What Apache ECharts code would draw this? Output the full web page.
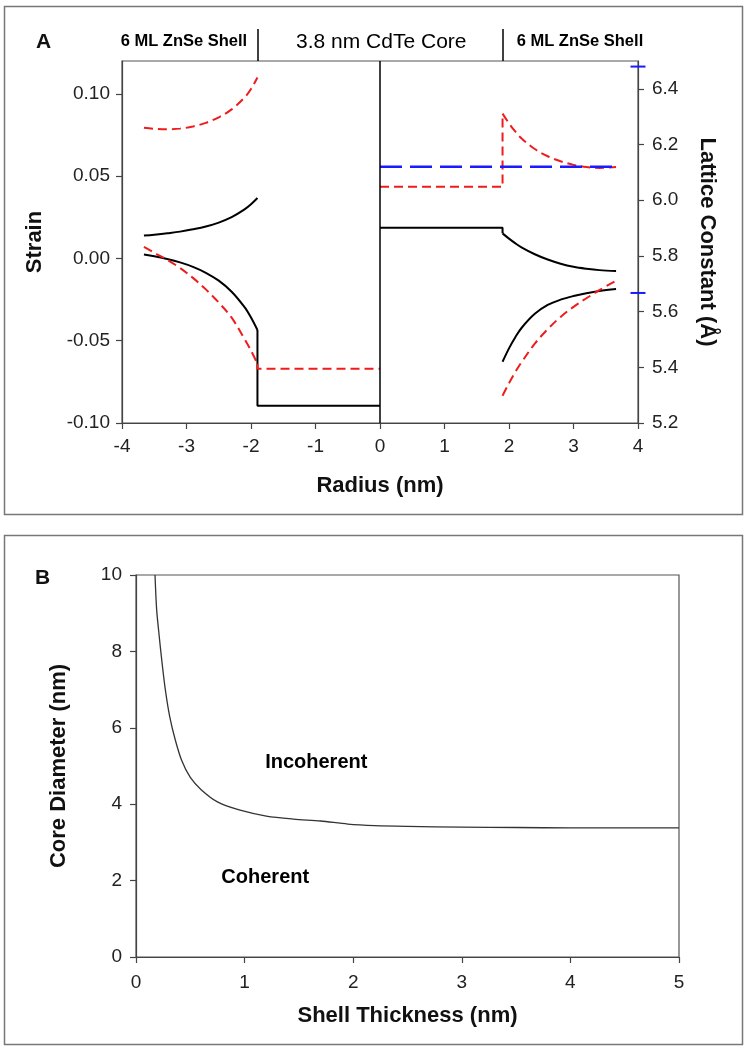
<!DOCTYPE html>
<html><head><meta charset="utf-8">
<script src="https://cdn.jsdelivr.net/npm/echarts@6/dist/echarts.min.js"></script>
<style>html,body{margin:0;padding:0;background:#fff}#c{width:749px;height:1050px}</style>
</head><body><div id="c"></div><script>
// ---------- Panel A data ----------
const strainTicks = [-0.10, -0.05, 0.00, 0.05, 0.10];
const latticeTicks = [5.2, 5.4, 5.6, 5.8, 6.0, 6.2, 6.4];
const leftShellRadius = [-3.66, -3.5, -3.3, -3.1, -2.9, -2.7, -2.5, -2.3, -2.1, -2.0, -1.9];
const rightShellRadius = [1.9, 2.0, 2.1, 2.2, 2.4, 2.6, 2.8, 3.0, 3.2, 3.4, 3.66];
const coreRadiusLeft = [-1.9, 0];
const coreRadiusRight = [0, 1.9];
// strain (left half, left axis)
const strainRedUpper = [0.0795, 0.0788, 0.0785, 0.0789, 0.0802, 0.0824, 0.0858, 0.0906, 0.0978, 0.1030, 0.1100];
const strainBlackUpper = [0.0139, 0.0144, 0.0153, 0.0163, 0.0177, 0.0194, 0.0218, 0.0251, 0.0298, 0.0329, 0.0367];
const strainBlackLower = [0.0024, 0.0014, -0.0003, -0.0024, -0.0051, -0.0087, -0.0135, -0.0202, -0.0296, -0.0359, -0.0435];
const strainRedLower = [0.0070, 0.0035, -0.0008, -0.0058, -0.0118, -0.0188, -0.0268, -0.0360, -0.0490, -0.0560, -0.0640];
const coreStrainBlack = -0.0895;
const coreStrainRed = -0.067;
// lattice constant (right half, right axis)
const latticeRedUpper = [6.311, 6.276, 6.246, 6.221, 6.184, 6.158, 6.140, 6.127, 6.119, 6.116, 6.119];
const latticeBlackUpper = [5.881, 5.862, 5.845, 5.830, 5.806, 5.787, 5.772, 5.761, 5.754, 5.749, 5.746];
const latticeBlackLower = [5.420, 5.468, 5.509, 5.543, 5.592, 5.624, 5.643, 5.656, 5.666, 5.674, 5.681];
const latticeRedLower = [5.298, 5.343, 5.384, 5.420, 5.485, 5.537, 5.581, 5.617, 5.648, 5.677, 5.711];
const coreLatticeBlack = 5.901;
const coreLatticeRed = 6.048;
const blueLineRadius = [0, 3.66];
const blueLattice = 6.12;
const bulkLattice = [6.48, 5.667];
const headerLabels = ['6 ML ZnSe Shell', '3.8 nm CdTe Core', '6 ML ZnSe Shell'];
const headerLabelX = [-3.04, 0.02, 3.1];
const interfaceRadius = [-1.9, 1.9];

// ---------- Panel B data ----------
const shellThickness = [0.175, 0.19, 0.21, 0.24, 0.27, 0.31, 0.36, 0.42, 0.5, 0.6, 0.75, 0.95, 1.2, 1.45, 1.7, 1.95, 2.2, 2.5, 3.0, 3.5, 4.0, 4.5, 5.0];
const coreDiameter = [10.0, 9.1, 8.5, 7.7, 7.0, 6.3, 5.7, 5.15, 4.7, 4.38, 4.06, 3.85, 3.69, 3.61, 3.56, 3.48, 3.44, 3.42, 3.40, 3.39, 3.38, 3.38, 3.38];
const regionLabels = ['Incoherent', 'Coherent'];
const regionX = [1.66, 1.19];
const regionY = [5.08, 2.09];

const FONT = '"Liberation Sans", Arial, sans-serif';
const zip = (xs, ys) => xs.map((x, i) => [x, ys[i]]);

const red = { color: '#ee1c1c', width: 2, type: [9, 5] };
const black = { color: '#000', width: 2, type: 'solid' };
const blue = { color: '#1a1aff', width: 2.5, type: [22, 8] };

function lineS(data, style, yAxisIndex, smooth) {
  return { type: 'line', xAxisIndex: 0, yAxisIndex: yAxisIndex, data: data, showSymbol: false, symbol: 'none',
    smooth: smooth ? 0.35 : false, lineStyle: style, itemStyle: { color: style.color }, z: 3, animation: false };
}

const axisLbl = { fontFamily: FONT, fontSize: 19, color: '#222' };
const nameStyle = { fontFamily: FONT, fontSize: 22, fontWeight: 'bold', color: '#111' };
const axLine = { show: true, onZero: false, lineStyle: { color: '#444', width: 1.2 } };
const axTick = { show: true, inside: false, length: 6, lineStyle: { color: '#444', width: 1.2 } };

const option = {
  animation: false,
  backgroundColor: '#fff',
  title: [
    { text: 'A', left: 31, top: 27, textStyle: { fontFamily: FONT, fontSize: 21, fontWeight: 'bold', color: '#111' } },
    { text: 'B', left: 30, top: 563, textStyle: { fontFamily: FONT, fontSize: 21, fontWeight: 'bold', color: '#111' } }
  ],
  graphic: [
    { type: 'rect', shape: { x: 4.5, y: 6.5, width: 738, height: 508 }, style: { fill: 'none', stroke: '#777', lineWidth: 1.5 }, silent: true },
    { type: 'rect', shape: { x: 4.5, y: 535.5, width: 738, height: 509 }, style: { fill: 'none', stroke: '#777', lineWidth: 1.5 }, silent: true }
  ],
  grid: [
    { left: 122, top: 61, width: 516, height: 362, show: true, borderColor: '#555', borderWidth: 1.2, backgroundColor: 'transparent' },
    { left: 122, top: 29, width: 516, height: 32, show: false },
    { left: 136, top: 575, width: 543, height: 382, show: true, borderColor: '#555', borderWidth: 1.2, backgroundColor: 'transparent' }
  ],
  xAxis: [
    { gridIndex: 0, type: 'value', min: -4, max: 4, interval: 1, axisLine: axLine, axisTick: axTick,
      axisLabel: Object.assign({ margin: 14 }, axisLbl), splitLine: { show: false },
      name: 'Radius (nm)', nameLocation: 'middle', nameGap: 52, nameTextStyle: nameStyle },
    { gridIndex: 1, type: 'value', min: -4, max: 4, show: false },
    { gridIndex: 2, type: 'value', min: 0, max: 5, interval: 1, axisLine: axLine, axisTick: axTick,
      axisLabel: Object.assign({ margin: 16 }, axisLbl), splitLine: { show: false },
      name: 'Shell Thickness (nm)', nameLocation: 'middle', nameGap: 48, nameTextStyle: nameStyle }
  ],
  yAxis: [
    { gridIndex: 0, type: 'value', position: 'left', min: -0.10, max: 0.12, axisLine: axLine,
      axisTick: Object.assign({ customValues: strainTicks }, axTick),
      axisLabel: Object.assign({ margin: 12, customValues: strainTicks, formatter: v => v.toFixed(2) }, axisLbl),
      splitLine: { show: false },
      name: 'Strain', nameLocation: 'middle', nameGap: 76, nameRotate: 90, nameTextStyle: nameStyle },
    { gridIndex: 0, type: 'value', position: 'right', min: 5.2, max: 6.5, axisLine: axLine,
      axisTick: Object.assign({ customValues: latticeTicks }, axTick),
      axisLabel: Object.assign({ margin: 14, customValues: latticeTicks, formatter: v => v.toFixed(1) }, axisLbl),
      splitLine: { show: false },
      name: 'Lattice Constant (Å)', nameLocation: 'middle', nameGap: 58, nameRotate: -90, nameTextStyle: nameStyle },
    { gridIndex: 1, type: 'value', min: 0, max: 1, show: false },
    { gridIndex: 2, type: 'value', min: 0, max: 10, interval: 2, axisLine: axLine, axisTick: axTick,
      axisLabel: Object.assign({ margin: 14 }, axisLbl), splitLine: { show: false },
      name: 'Core Diameter (nm)', nameLocation: 'middle', nameGap: 66, nameRotate: 90, nameTextStyle: nameStyle }
  ],
  series: [
    // left half: strain
    lineS(zip(leftShellRadius, strainRedUpper), red, 0, true),
    lineS(zip(leftShellRadius, strainBlackUpper), black, 0, true),
    lineS(zip(leftShellRadius, strainBlackLower), black, 0, true),
    lineS(zip(leftShellRadius, strainRedLower), red, 0, true),
    lineS([[coreRadiusLeft[0], strainBlackLower[strainBlackLower.length - 1]], [coreRadiusLeft[0], coreStrainBlack], [coreRadiusLeft[1], coreStrainBlack]], black, 0, false),
    lineS([[coreRadiusLeft[0], strainRedLower[strainRedLower.length - 1]], [coreRadiusLeft[0], coreStrainRed], [coreRadiusLeft[1], coreStrainRed]], red, 0, false),
    // right half: lattice constant
    lineS([[coreRadiusRight[0], coreLatticeRed], [coreRadiusRight[1], coreLatticeRed], [coreRadiusRight[1], latticeRedUpper[0]]], red, 1, false),
    lineS(zip(rightShellRadius, latticeRedUpper), red, 1, true),
    lineS([[coreRadiusRight[0], coreLatticeBlack], [coreRadiusRight[1], coreLatticeBlack], [coreRadiusRight[1], latticeBlackUpper[0]]], black, 1, false),
    lineS(zip(rightShellRadius, latticeBlackUpper), black, 1, true),
    lineS(zip(rightShellRadius, latticeBlackLower), black, 1, true),
    lineS(zip(rightShellRadius, latticeRedLower), red, 1, true),
    Object.assign(lineS(blueLineRadius.map(r => [r, blueLattice]), blue, 1, false), {
      markLine: { silent: true, symbol: 'none', label: { show: false }, lineStyle: { color: '#000', width: 1.5, type: 'solid' },
        data: [{ xAxis: 0 }] } }),
    { type: 'scatter', xAxisIndex: 0, yAxisIndex: 1, clip: false, symbol: 'rect', symbolSize: [15, 2],
      itemStyle: { color: '#1a1aff', opacity: 1 }, data: bulkLattice.map(v => [4, v]), z: 5, animation: false },
    // header
    { type: 'line', xAxisIndex: 1, yAxisIndex: 2, data: [], showSymbol: false,
      markLine: { silent: true, symbol: 'none', label: { show: false }, lineStyle: { color: '#000', width: 1.5, type: 'solid' },
        data: interfaceRadius.map(r => ({ xAxis: r })) } },
    { type: 'scatter', xAxisIndex: 1, yAxisIndex: 2, symbolSize: 0, silent: true, animation: false, itemStyle: { opacity: 1 },
      data: headerLabels.map((t, i) => ({ value: [headerLabelX[i], 0.6],
        label: { show: true, position: 'inside', formatter: t, fontFamily: FONT, color: '#000',
          fontSize: i === 1 ? 21 : 16.5, fontWeight: i === 1 ? 'normal' : 'bold' } })) },
    // panel B
    { type: 'line', xAxisIndex: 2, yAxisIndex: 3, data: zip(shellThickness, coreDiameter), showSymbol: false, symbol: 'none',
      smooth: 0.3, lineStyle: { color: '#333', width: 1.3 }, animation: false },
    { type: 'scatter', xAxisIndex: 2, yAxisIndex: 3, symbolSize: 0, silent: true, animation: false, itemStyle: { opacity: 1 },
      data: regionLabels.map((t, i) => ({ value: [regionX[i], regionY[i]],
        label: { show: true, position: 'inside', formatter: t, fontFamily: FONT, color: '#000', fontSize: 20, fontWeight: 'bold' } })) }
  ]
};
const chart = echarts.init(document.getElementById('c'), null, { renderer: 'canvas' });
chart.setOption(option);
</script></body></html>
